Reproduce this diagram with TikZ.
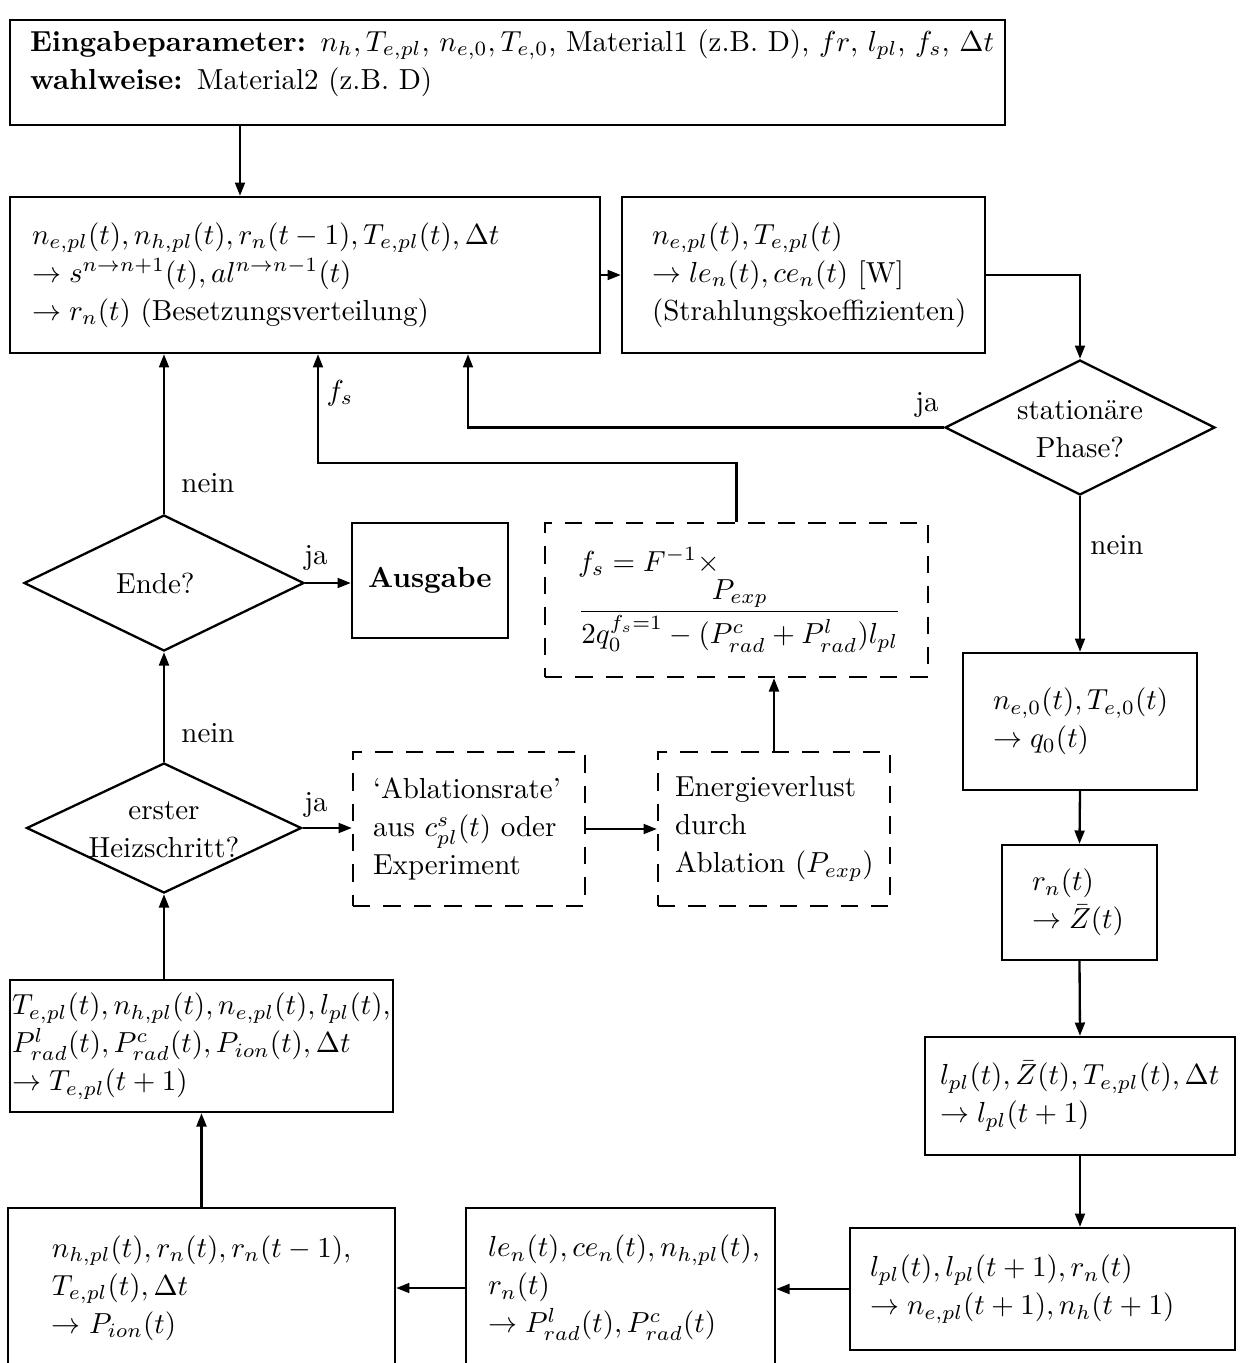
\documentclass[tikz,border=0pt]{standalone}
\usetikzlibrary{arrows.meta,shapes.geometric}
\newlength\pxu
\setlength\pxu{0.345pt}
\newcommand\dtext[1]{\smash{\raisebox{-3.6pt}{\makebox[0pt]{\begin{tabular}{@{}c@{}}#1\end{tabular}}}}}
\begin{document}
\begin{tikzpicture}[x=0.345pt,y=-0.345pt,
  font=\fontsize{10}{13.1}\selectfont,
  line width=0.8pt,
  box/.style={draw, rectangle, align=left, inner ysep=0pt},
  dbox/.style={box, dash pattern=on 6pt off 4.5pt},
  dia/.style={draw, diamond, inner sep=0pt},
  arr/.style={-{Triangle[length=4.6pt,width=3.4pt]}},
  lbl/.style={inner sep=0pt}]
\useasboundingbox (0,0) rectangle (1241,1363);
\clip (0,0) rectangle (1241,1363);

% boxes
\node[box, minimum width=995\pxu, minimum height=105\pxu, text width=955\pxu, inner xsep=20\pxu] (in) at (507.5,72.5)
 {\mbox{\textbf{Eingabeparameter:} $n_h, T_{e,pl}$, $n_{e,0}, T_{e,0}$, Material1 (z.B.~D), $fr$, $l_{pl}$, $f_s$, $\Delta t$}\\
  \textbf{wahlweise:} Material2 (z.B.~D)\\[-4pt]\mbox{}};

\node[box, minimum width=590\pxu, minimum height=156\pxu, text width=546\pxu, inner xsep=22\pxu] (A) at (305,275)
 {\mbox{$n_{e,pl}(t), n_{h,pl}(t), r_n(t-1), T_{e,pl}(t), \Delta t$}\\
  \mbox{$\rightarrow s^{n\rightarrow n+1}(t), al^{n\rightarrow n-1}(t)$}\\
  \mbox{$\rightarrow r_n(t)$ (Besetzungsverteilung)}};

\node[box, minimum width=363\pxu, minimum height=156\pxu, text width=303\pxu, inner xsep=30\pxu] (B) at (803.5,275)
 {\mbox{$n_{e,pl}(t), T_{e,pl}(t)$}\\
  \mbox{$\rightarrow le_n(t), ce_n(t)$ [W]}\\
  \mbox{(Strahlungskoeffizienten)}};

\node[dia, minimum width=270\pxu, minimum height=135\pxu] (st) at (1080,427.5) {\dtext{stationäre\\Phase?}};

\node[box, minimum width=234\pxu, minimum height=137\pxu, text width=174\pxu, inner xsep=30\pxu] (q0) at (1080,721.5)
 {\mbox{$n_{e,0}(t), T_{e,0}(t)$}\\
  \mbox{$\rightarrow q_0(t)$}};

\node[box, minimum width=155\pxu, minimum height=115\pxu, text width=95\pxu, inner xsep=30\pxu] (Z) at (1079.5,902.5)
 {\mbox{$r_n(t)$}\\
  \mbox{$\rightarrow \bar{Z}(t)$}};

\node[box, minimum width=310\pxu, minimum height=118\pxu, text width=280\pxu, inner xsep=15\pxu] (lp) at (1080,1096)
 {\mbox{$l_{pl}(t), \bar{Z}(t), T_{e,pl}(t), \Delta t$}\\
  \mbox{$\rightarrow l_{pl}(t+1)$}};

\node[box, minimum width=385\pxu, minimum height=122\pxu, text width=345\pxu, inner xsep=20\pxu] (ne) at (1042.5,1289)
 {\mbox{$l_{pl}(t), l_{pl}(t+1), r_n(t)$}\\
  \mbox{$\rightarrow n_{e,pl}(t+1), n_h(t+1)$}};

\node[box, minimum width=309\pxu, minimum height=160\pxu, text width=265\pxu, inner xsep=22\pxu] (Pr) at (620.5,1288)
 {\mbox{$le_n(t), ce_n(t), n_{h,pl}(t)$,}\\
  \mbox{$r_n(t)$}\\
  \mbox{$\rightarrow P^l_{rad}(t), P^c_{rad}(t)$}};

\node[box, minimum width=387\pxu, minimum height=160\pxu, text width=299\pxu, inner xsep=44\pxu] (Pi) at (201.5,1288)
 {\mbox{$n_{h,pl}(t), r_n(t), r_n(t-1)$,}\\
  \mbox{$T_{e,pl}(t), \Delta t$}\\
  \mbox{$\rightarrow P_{ion}(t)$}};

\node[box, minimum width=383\pxu, minimum height=132\pxu, text width=379\pxu, inner xsep=2\pxu] (Te) at (201.5,1046)
 {\mbox{$T_{e,pl}(t), n_{h,pl}(t), n_{e,pl}(t), l_{pl}(t)$,}\\
  \mbox{$P^l_{rad}(t), P^c_{rad}(t), P_{ion}(t), \Delta t$}\\
  \mbox{$\rightarrow T_{e,pl}(t+1)$}};

\node[dia, minimum width=275\pxu, minimum height=130\pxu] (hz) at (164,828) {\dtext{erster\\Heizschritt?}};

\node[dia, minimum width=280\pxu, minimum height=136\pxu] (en) at (164,583) {\hspace*{-6pt}\dtext{Ende?}};

\node[box, minimum width=156\pxu, minimum height=115\pxu, align=center, inner xsep=0pt] (aus) at (430,580.5) {\textbf{Ausgabe}};

\node[dbox, minimum width=232\pxu, minimum height=154\pxu, text width=192\pxu, inner xsep=20\pxu] (abl) at (469,829)
 {\mbox{‘Ablationsrate’}\\
  \mbox{aus $c^s_{pl}(t)$ oder}\\
  \mbox{Experiment}};

\node[dbox, minimum width=232\pxu, minimum height=154\pxu, text width=198\pxu, inner xsep=17\pxu] (ev) at (774,829)
 {\mbox{Energieverlust}\\
  \mbox{durch}\\
  \mbox{Ablation ($P_{exp}$)}};

\node[dbox, minimum width=383\pxu, minimum height=154\pxu, text width=317\pxu, inner xsep=33\pxu] (F) at (736.5,600)
 {\mbox{$f_s = F^{-1}\times$}\\
  \mbox{$\displaystyle\frac{P_{exp}}{2q_0^{f_s=1}-(P^c_{rad}+P^l_{rad})l_{pl}}$}};

% helper coordinates
\coordinate (c1) at (240,0);
\coordinate (c2) at (468,0);
\coordinate (fsb) at (318,463);

% connectors
\draw[arr] (c1 |- in.south) -- (c1 |- A.north);
\draw[arr] (A.east) -- (B.west);
\draw[arr] (B.east) -| (st.north);
\draw[arr] (st.west) -| (c2 |- A.south);
\draw[arr] (st.south) -- (q0.north);
\draw[arr] (q0.south) -- (Z.north);
\draw[arr] (Z.south) -- (lp.north);
\draw[arr] (lp.south) -- (lp.south |- ne.north);
\draw[arr] (ne.west) -- (ne.west -| Pr.east);
\draw[arr] (Pr.west) -- (Pr.west -| Pi.east);
\draw[arr] (Pi.north) -- (Pi.north |- Te.south);
\draw[arr] (hz.south |- Te.north) -- (hz.south);
\draw[arr] (hz.north) -- (en.south);
\draw[arr] (en.north) -- (en.north |- A.south);
\draw[arr] (en.east) -- (en.east -| aus.west);
\draw[arr] (hz.east) -- (hz.east -| abl.west);
\draw[arr] (abl.east) -- (ev.west);
\draw[arr] (ev.north) -- (ev.north |- F.south);
\draw[arr] (F.north) |- (fsb) -- (fsb |- A.south);

% labels
\node[lbl] (l1) at (208,483) {nein};
\node[lbl] (l2) at (208,733) {nein};
\node[lbl] (l3) at (316,558) {ja};
\node[lbl] (l4) at (316,805) {ja};
\node[lbl] (l5) at (927,405) {ja};
\node[lbl] (l6) at (1117,545) {nein};
\node[lbl] (l7) at (340,393) {$f_s$};
\end{tikzpicture}
\end{document}
